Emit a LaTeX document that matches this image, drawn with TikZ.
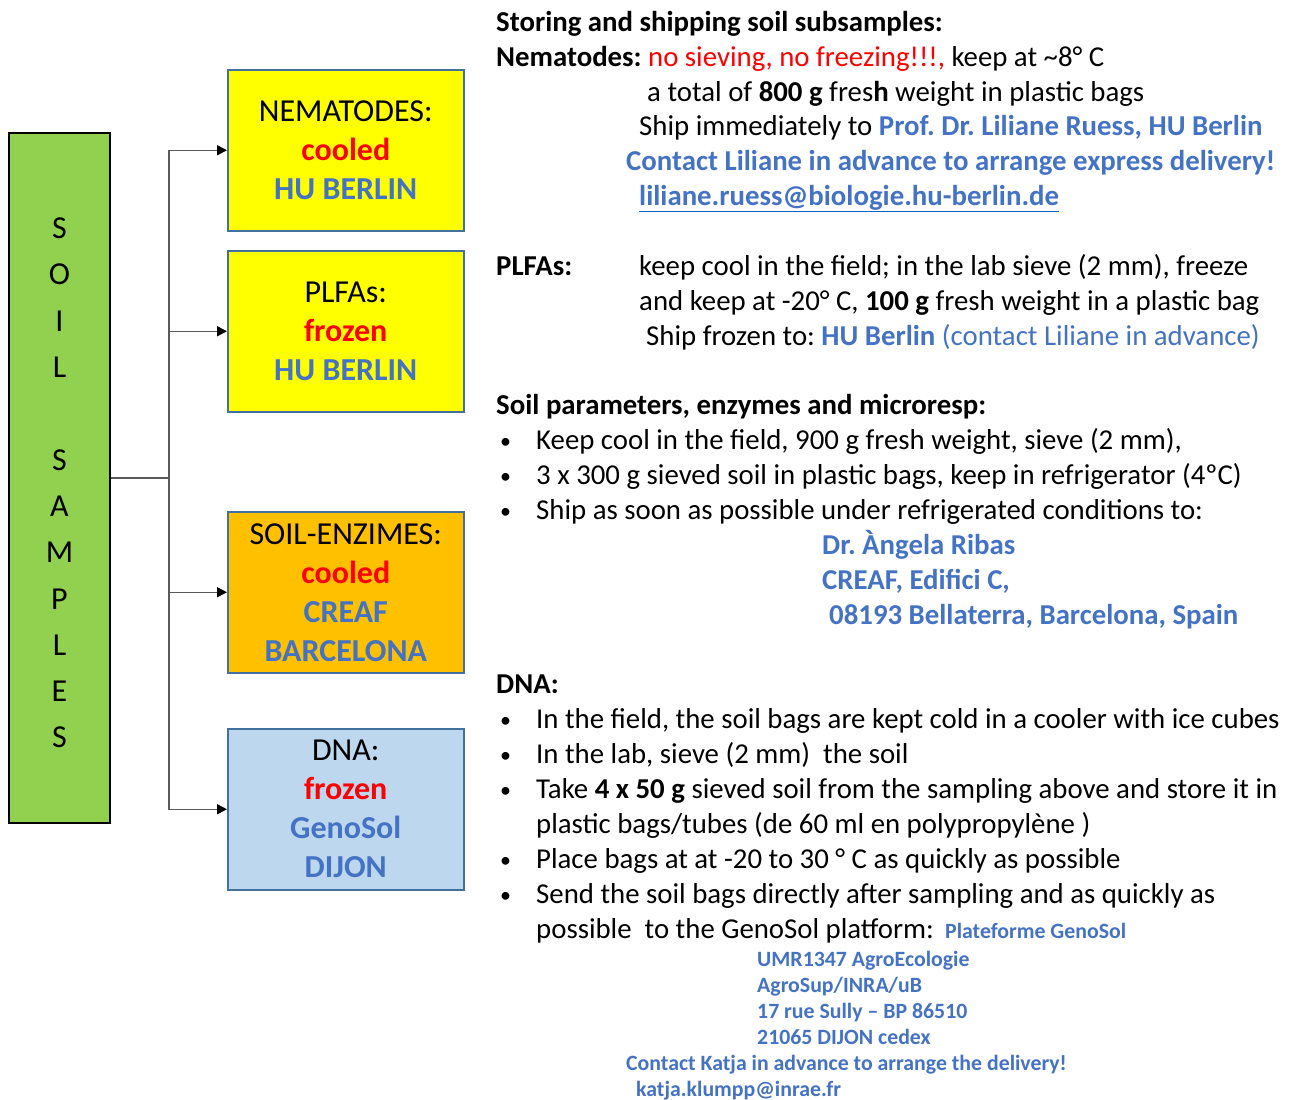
\documentclass[tikz,border=0pt]{standalone}
\usepackage{fontspec}
\setmainfont{Carlito}
\usetikzlibrary{arrows.meta}
\definecolor{bl}{RGB}{68,114,196}
\definecolor{rd}{RGB}{255,0,0}
\definecolor{lnk}{RGB}{5,99,193}
\definecolor{bord}{RGB}{65,113,156}
\definecolor{grn}{RGB}{146,208,80}
\definecolor{yel}{RGB}{255,255,0}
\definecolor{org}{RGB}{255,192,0}
\definecolor{lbl}{RGB}{189,215,238}
\definecolor{cgray}{RGB}{90,90,90}
\frenchspacing
\begin{document}
\begin{tikzpicture}[x=1pt,y=-1pt,
 box/.style={draw=bord, line width=1.5pt, minimum width=236pt, minimum height=161pt, inner sep=0pt, align=center, font=\fontsize{32}{39}\selectfont, anchor=north west},
 txt/.style={anchor=base west, inner sep=0pt, yshift=-2pt, font=\fontsize{28.8}{35}\selectfont},
 bul/.style={anchor=base west, inner sep=0pt, yshift=-2pt, font=\fontsize{22}{35}\selectfont},
 sm/.style={anchor=base west, inner sep=0pt, yshift=-1pt, font=\fontsize{21.8}{26}\selectfont\bfseries, text=bl},
 conn/.style={draw=cgray, line width=1.5pt},
 arr/.style={conn, -{Triangle[length=10pt,width=10pt,color=black]}}]
\path[use as bounding box, fill=white] (0,0) rectangle (1293,1100);

% left diagram
\node[draw=black, line width=1.5pt, fill=grn, minimum width=101pt, minimum height=690pt, inner sep=0pt] (samples) at (59.5,478) {};
\node[align=center, inner sep=0pt, font=\fontsize{32}{46.3}\selectfont] (samplesText) at (59.5,483) {S\\O\\I\\L\\\strut\\S\\A\\M\\P\\L\\E\\S};

\node[box, fill=yel] (nem) at (227,69) {NEMATODES:\\\textcolor{rd}{\bfseries cooled}\\\textcolor{bl}{\bfseries HU BERLIN}};
\node[box, fill=yel] (plfa) at (227,250) {PLFAs:\\\textcolor{rd}{\bfseries frozen}\\\textcolor{bl}{\bfseries HU BERLIN}};
\node[box, fill=org] (enz) at (227,511) {SOIL-ENZIMES:\\\textcolor{rd}{\bfseries cooled}\\\textcolor{bl}{\bfseries CREAF}\\\textcolor{bl}{\bfseries BARCELONA}};
\node[box, fill=lbl] (dna) at (227,728) {DNA:\\\textcolor{rd}{\bfseries frozen}\\\textcolor{bl}{\bfseries GenoSol}\\\textcolor{bl}{\bfseries DIJON}};

\coordinate (trunk) at (169,478);
\draw[conn] (samples.east |- trunk) -- (trunk);
\draw[arr] (trunk) |- (nem.west);
\draw[arr] (trunk) |- (plfa.west);
\draw[arr] (trunk) |- (enz.west);
\draw[arr] (trunk) |- (dna.west);

% right text
\node[txt] (t1) at (496,29) {\bfseries Storing and shipping soil subsamples:};
\node[txt] (t2) at (496,64) {{\bfseries Nematodes:} \textcolor{rd}{no sieving, no freezing!!!,} keep at \textasciitilde8° C};
\node[txt] (t3) at (647,99) {a total of \textbf{800 g} fres\textbf{h} weight in plastic bags};
\node[txt] (t4) at (639,133) {Ship immediately to \textcolor{bl}{\bfseries Prof. Dr. Liliane Ruess, HU Berlin}};
\node[txt] (t5) at (626,168) {\textcolor{bl}{\bfseries Contact Liliane in advance to arrange express delivery!}};
\node[txt] (t6) at (639,203) {\bfseries\textcolor{lnk}{\underline{\textcolor{bl}{liliane.ruess@biologie.hu-berlin.de}}}};

\node[txt] (p1) at (496,273) {\bfseries PLFAs:};
\node[txt] (p2) at (639,273) {keep cool in the field; in the lab sieve (2 mm), freeze};
\node[txt] (p3) at (639,308) {and keep at -20° C, \textbf{100 g} fresh weight in a plastic bag};
\node[txt] (p4) at (646,343) {Ship frozen to: \textcolor{bl}{\textbf{HU Berlin} (contact Liliane in advance)}};

\node[txt] (s1) at (496,412) {\bfseries Soil parameters, enzymes and microresp:};
\node[bul] (sb1) at (500,446) {•};
\node[txt] (s2) at (536,447) {Keep cool in the field, 900 g fresh weight, sieve (2 mm),};
\node[bul] (sb2) at (500,481) {•};
\node[txt] (s3) at (536,482) {3 x 300 g sieved soil in plastic bags, keep in refrigerator (4ºC)};
\node[bul] (sb3) at (500,516) {•};
\node[txt] (s4) at (536,517) {Ship as soon as possible under refrigerated conditions to:};
\node[txt] (s5) at (822,552) {\textcolor{bl}{\bfseries Dr. Àngela Ribas}};
\node[txt] (s6) at (822,587) {\textcolor{bl}{\bfseries CREAF, Edifici C,}};
\node[txt] (s7) at (829,622) {\textcolor{bl}{\bfseries 08193 Bellaterra, Barcelona, Spain}};

\node[txt] (d1) at (496,691) {\bfseries DNA:};
\node[bul] (db1) at (500,725) {•};
\node[txt] (d2) at (536,726) {In the field, the soil bags are kept cold in a cooler with ice cubes};
\node[bul] (db2) at (500,760) {•};
\node[txt] (d3) at (536,761) {In the lab, sieve (2 mm)\ \ the soil};
\node[bul] (db3) at (500,795) {•};
\node[txt] (d4) at (536,796) {Take \textbf{4 x 50 g} sieved soil from the sampling above and store it in};
\node[txt] (d5) at (536,831) {plastic bags/tubes (de 60 ml en polypropylène )};
\node[bul] (db4) at (500,865) {•};
\node[txt] (d6) at (536,866) {Place bags at at -20 to 30 ° C as quickly as possible};
\node[bul] (db5) at (500,900) {•};
\node[txt] (d7) at (536,901) {Send the soil bags directly after sampling and as quickly as};
\node[txt] (d8) at (536,936) {possible\ \ to the GenoSol platform:};
\node[sm] (g1) at (945,937) {Plateforme GenoSol};
\node[sm] (g2) at (757,965) {UMR1347 AgroEcologie};
\node[sm] (g3) at (757,991) {AgroSup/INRA/uB};
\node[sm] (g4) at (757,1017) {17 rue Sully – BP 86510};
\node[sm] (g5) at (757,1043) {21065 DIJON cedex};
\node[sm] (g6) at (626,1069) {Contact Katja in advance to arrange the delivery!};
\node[sm] (g7) at (636,1095) {katja.klumpp@inrae.fr};
\end{tikzpicture}
\end{document}
